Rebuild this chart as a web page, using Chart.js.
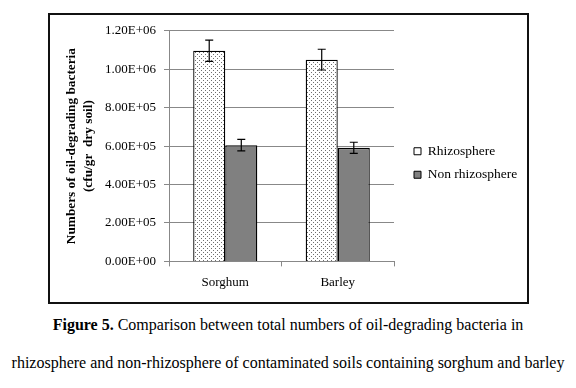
<!DOCTYPE html>
<html>
<head>
<meta charset="utf-8">
<script src="https://cdn.jsdelivr.net/npm/chart.js@4"></script>
<style>
  body { margin: 0; background: #fff; width: 576px; height: 388px; position: relative; font-family: "Liberation Serif", "Times New Roman", serif; }
  #frame { position: absolute; left: 48px; top: 13px; width: 477px; height: 287px; border: 2px solid #111; }
  #frame canvas { display: block; }
  .cap { position: absolute; left: 0; width: 576px; text-align: center; font-size: 16px; line-height: 18px; color: #000; white-space: nowrap; }
</style>
</head>
<body>
<div id="frame"><canvas id="bacteriaChart" width="477" height="287"></canvas></div>
<div class="cap" style="top:316px"><b>Figure 5.</b> Comparison between total numbers of oil-degrading bacteria in</div>
<div class="cap" style="top:354px">rhizosphere and non-rhizosphere of contaminated soils containing sorghum and barley</div>
<script>
// data
const crops = ['Sorghum', 'Barley'];
const rhizo = [1096000, 1050000];
const rhizoErr = [55000, 54000];
const nonRhizo = [605000, 591000];
const nonRhizoErr = [30000, 29000];
const yTickLabels = ['0.00E+00', '2.00E+05', '4.00E+05', '6.00E+05', '8.00E+05', '1.00E+06', '1.20E+06'];

const serif = '"Liberation Serif", "Times New Roman", serif';

// small dotted fill like the excel pattern
function dotPattern() {
    const c = document.createElement('canvas');
    c.width = 4; c.height = 4;
    const g = c.getContext('2d');
    g.fillStyle = '#fff';
    g.fillRect(0, 0, 4, 4);
    g.fillStyle = '#6e6e6e';
    g.fillRect(1, 1, 1, 1);
    g.fillRect(3, 3, 1, 1);
    return g.createPattern(c, 'repeat');
}

// error bars drawn from the y scale
const errorBars = {
    id: 'errorBars',
    afterDatasetsDraw(chart) {
        const ctx = chart.ctx;
        const y = chart.scales.y;
        chart.data.datasets.forEach((ds, i) => {
            chart.getDatasetMeta(i).data.forEach((bar, j) => {
                const top = y.getPixelForValue(ds.data[j] + ds.errors[j]);
                const bot = y.getPixelForValue(ds.data[j] - ds.errors[j]);
                ctx.save();
                ctx.strokeStyle = '#000';
                ctx.lineWidth = 1.2;
                ctx.beginPath();
                ctx.moveTo(bar.x, top); ctx.lineTo(bar.x, bot);
                ctx.moveTo(bar.x - 4, top); ctx.lineTo(bar.x + 4, top);
                ctx.moveTo(bar.x - 4, bot); ctx.lineTo(bar.x + 4, bot);
                ctx.stroke();
                ctx.restore();
            });
        });
    }
};

const legendFill = ['#fff', '#808080'];

const ctx = document.getElementById('bacteriaChart').getContext('2d');
const chart = new Chart(ctx, {
    type: 'bar',
    data: {
        labels: crops,
        datasets: [{
            label: 'Rhizosphere',
            data: rhizo,
            errors: rhizoErr,
            backgroundColor: dotPattern(),
            borderColor: '#000',
            borderWidth: 1.3
        }, {
            label: 'Non rhizosphere',
            data: nonRhizo,
            errors: nonRhizoErr,
            backgroundColor: '#808080',
            borderColor: '#000',
            borderWidth: 1.3
        }]
    },
    options: {
        responsive: false,
        animation: false,
        layout: { padding: { left: 13, right: 0, top: 13, bottom: 4 } },
        datasets: { bar: { categoryPercentage: 0.57, barPercentage: 1 } },
        plugins: {
            tooltip: { enabled: false },
            legend: {
                position: 'right',
                align: 'center',
                labels: {
                    boxWidth: 7,
                    boxHeight: 7,
                    padding: 10,
                    color: '#000',
                    font: { family: serif, size: 13.5 },
                    generateLabels: (chart) => Chart.defaults.plugins.legend.labels.generateLabels(chart)
                        .map((l, i) => ({ ...l, fillStyle: legendFill[i], lineWidth: 1 }))
                }
            }
        },
        scales: {
            x: {
                grid: { display: true, drawOnChartArea: false, drawTicks: true, tickLength: 5, color: '#888', offset: true },
                border: { display: true, color: '#888' },
                ticks: { color: '#000', padding: 8, font: { family: serif, size: 13 } }
            },
            y: {
                min: 0,
                max: 1200000,
                grid: { color: '#888', tickLength: 5 },
                border: { display: true, color: '#888' },
                ticks: {
                    stepSize: 200000,
                    color: '#000',
                    padding: 8,
                    font: { family: serif, size: 13 },
                    callback: (v) => yTickLabels[Math.round(v / 200000)]
                },
                title: {
                    display: true,
                    text: ['Numbers of oil-degrading bacteria', '(cfu/gr  dry soil)'],
                    color: '#000',
                    font: { family: serif, size: 13.3, weight: 'bold', lineHeight: 1.3 },
                    padding: { top: 0, bottom: 7 }
                },
                afterFit: (s) => { s.width = 106; }
            },
            // spacer between plot and legend
            gap: {
                type: 'linear',
                position: 'right',
                display: true,
                grid: { display: false },
                border: { display: false },
                ticks: { display: false },
                afterFit: (s) => { s.width = 10; }
            }
        }
    },
    plugins: [errorBars]
});

// vertical boxes are capped at a third of the width, let the legend keep its room
const legendFit = chart.legend.fit;
chart.legend.fit = function () {
    legendFit.call(this);
    this.width = 123;
};
chart.update();
</script>
</body>
</html>
